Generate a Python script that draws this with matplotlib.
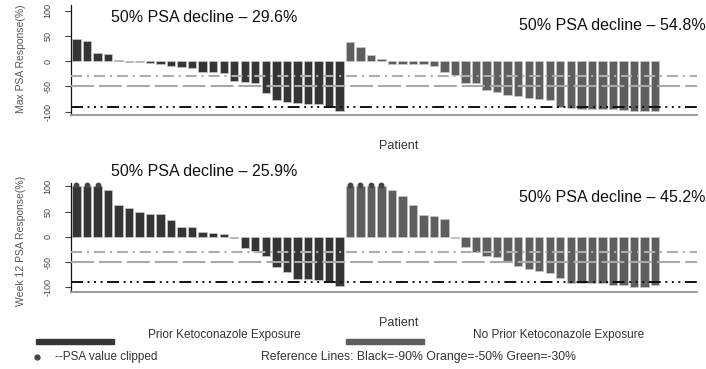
import numpy as np
import matplotlib
matplotlib.use("Agg")
import matplotlib.pyplot as plt
from matplotlib.patches import Rectangle
from matplotlib.lines import Line2D

# PSA response per patient (%)
max_prior = [43, 39, 17, 15, 2, -1, -1, -3, -5, -10, -11, -13, -21, -21, -24,
             -40, -42, -44, -63, -77, -81, -83, -84, -85, -88, -98]
max_noprior = [38, 27, 12, 5, -6, -6, -6, -6, -10, -21, -28, -43, -43, -58, -61,
               -66, -69, -72, -75, -77, -91, -92, -94, -94, -94, -94, -97, -98, -98, -98]
wk12_prior = [100, 100, 100, 92, 64, 58, 49, 45, 45, 33, 20, 19, 9, 7, 5, -2,
              -23, -28, -39, -59, -69, -83, -83, -85, -87, -98]
wk12_noprior = [100, 100, 100, 100, 93, 80, 64, 43, 41, 36, -3, -21, -31, -38, -40,
                -47, -57, -64, -67, -72, -81, -92, -92, -92, -92, -95, -95, -100, -100, -95]
wk12_prior_clipped = [0, 1, 2]
wk12_noprior_clipped = [0, 1, 2, 3]

ref_levels = [-30, -50, -90]
yticks = [100, 50, 0, -50, -100]

panels = [
    dict(prior=max_prior, noprior=max_noprior, clip_p=[], clip_n=[],
         ylabel="Max PSA Response(%)", left="50% PSA decline \u2013 29.6%",
         right="50% PSA decline \u2013 54.8%"),
    dict(prior=wk12_prior, noprior=wk12_noprior, clip_p=wk12_prior_clipped,
         clip_n=wk12_noprior_clipped, ylabel="Week 12 PSA Response(%)",
         left="50% PSA decline \u2013 25.9%", right="50% PSA decline \u2013 45.2%"),
]

W, H = 706, 369
plt.rcParams['font.family'] = ['Liberation Sans', 'DejaVu Sans']
plt.rcParams['lines.scale_dashes'] = False
fig = plt.figure(figsize=(W / 100, H / 100), dpi=100)

DARK = '#353535'
LIGHT = '#5e5e5e'

def px(x, y):
    return x / W, 1 - y / H

# axes boxes in pixels: left, top, right, bottom
boxes = [(70.7, 5, 697, 115), (70.7, 183, 697, 291.7)]
ylims = [(-106.5, 111), (-108.8, 106.7)]
ann_y = [(18, 25), (171, 198)]
lab_y = [59, 241]
patient_y = [146, 323]

for p, box, yl, ay, ly, py in zip(panels, boxes, ylims, ann_y, lab_y, patient_y):
    l, t, r, b = box
    ax = fig.add_axes([l / W, 1 - b / H, (r - l) / W, (b - t) / H])
    n1, n2 = len(p['prior']), len(p['noprior'])
    x1 = np.arange(n1)
    x2 = np.arange(n1, n1 + n2)
    ax.bar(x1, p['prior'], width=0.8, color=DARK, edgecolor='#c8c8c8', linewidth=0.5, zorder=2)
    ax.bar(x2, p['noprior'], width=0.8, color=LIGHT, edgecolor='#c8c8c8', linewidth=0.5, zorder=2)
    if p['clip_p']:
        ax.plot(x1[p['clip_p']], [103] * len(p['clip_p']), 'o', color='#444444', ms=3.2, zorder=4, clip_on=False)
    if p['clip_n']:
        ax.plot(x2[p['clip_n']], [103] * len(p['clip_n']), 'o', color='#444444', ms=3.2, zorder=4, clip_on=False)

    ax.axhline(ref_levels[0], color='#adadad', lw=1.5, ls=(0, (8, 3.5, 1.5, 3.5)), zorder=3)
    ax.axhline(ref_levels[1], color='#a8a8a8', lw=1.5, ls=(0, (16.5, 3.6)), zorder=3)
    ax.axhline(ref_levels[2], color='#111111', lw=1.4,
               ls=(0, (8.6, 3.3, 1.4, 3.3, 1.4, 3.3, 1.4, 3.3)), zorder=3)

    ax.set_xlim(-0.55, 59.0)
    ax.set_ylim(*yl)
    ax.set_xticks([])
    ax.set_yticks(yticks)
    ax.set_yticklabels([str(v) for v in yticks], rotation=90, va='center',
                       fontsize=6.5, color='#444444')
    ax.tick_params(axis='y', length=4, width=0.8, pad=9, colors='#444444')
    for s in ('top', 'right'):
        ax.spines[s].set_visible(False)
    ax.spines['left'].set_color('#111111')
    ax.spines['left'].set_linewidth(0.9)
    ax.spines['bottom'].set_color('#9a9a9a')
    ax.spines['bottom'].set_linewidth(1.4)
    ax.patch.set_alpha(0)

    fig.text(*px(111, ay[0]), p['left'], fontsize=11.5, ha='left', va='center', color='#111111')
    fig.text(*px(519, ay[1]), p['right'], fontsize=11.5, ha='left', va='center', color='#111111')
    fig.text(*px(21, ly), p['ylabel'], fontsize=7.5, rotation=90, ha='center', va='center', color='#555555')
    fig.text(*px(399, py), "Patient", fontsize=9, ha='center', va='center', color='#333333')

# legend at the bottom
fig.add_artist(Rectangle(px(36, 344), 78 / W, 5 / H, transform=fig.transFigure, color=DARK))
fig.add_artist(Rectangle(px(346, 344), 78 / W, 5 / H, transform=fig.transFigure, color=LIGHT))
fig.text(*px(148, 335), "Prior Ketoconazole Exposure", fontsize=8.5, ha='left', va='center', color='#333333')
fig.text(*px(473, 335), "No Prior Ketoconazole Exposure", fontsize=8.5, ha='left', va='center', color='#333333')
fig.add_artist(Line2D([37 / W], [1 - 357 / H], marker='o', ms=3.5, color='#444444', transform=fig.transFigure))
fig.text(*px(55, 357), "--PSA value clipped", fontsize=8.5, ha='left', va='center', color='#333333')
fig.text(*px(261, 357), "Reference Lines: Black=-90% Orange=-50% Green=-30%", fontsize=8.8,
         ha='left', va='center', color='#333333')

fig.savefig('out.png', dpi=100)
